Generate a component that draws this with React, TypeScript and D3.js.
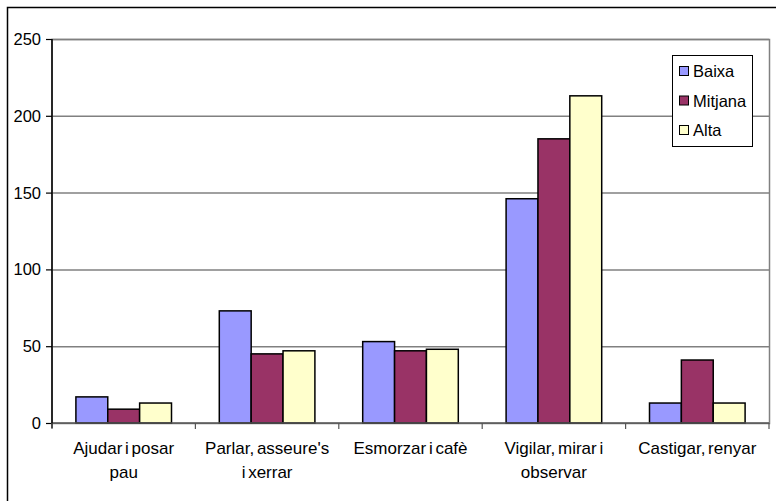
import * as d3 from "d3";

const categories = [
  ["Ajudar i posar", "pau"],
  ["Parlar, asseure's", "i xerrar"],
  ["Esmorzar i cafè"],
  ["Vigilar, mirar i", "observar"],
  ["Castigar, renyar"],
];
const seriesNames = ["Baixa", "Mitjana", "Alta"];
const baixa = [17, 73, 53, 146, 13];
const mitjana = [9, 45, 47, 185, 41];
const alta = [13, 47, 48, 213, 13];
const yTicks = [0, 50, 100, 150, 200, 250];

const colors = ["#9999FF", "#993366", "#FFFFCC"];
const values = [baixa, mitjana, alta];

const W = 776;
const H = 501;
const plot = { left: 52, right: 769, top: 39, bottom: 423 };
const font = "'Liberation Sans', Arial, sans-serif";

export default function App() {
  const catKeys = categories.map((c) => c.join(" "));
  const x = d3.scaleBand().domain(catKeys).range([plot.left, plot.right]).paddingInner(0).paddingOuter(0);
  const y = d3.scaleLinear().domain([0, 250]).range([plot.bottom, plot.top]);
  const step = x.bandwidth();
  const barW = step / (3 + 1.5);
  const inner = d3.scaleBand().domain(seriesNames).range([0, barW * 3]);

  return (
    <div style={{ position: "fixed", left: 0, top: 0, width: W, height: H, background: "#fff" }}>
      <svg width={W} height={H} style={{ display: "block" }} fontFamily={font}>
        <rect x={7.5} y={7.5} width={W + 10} height={H + 10} fill="#fff" stroke="#000" strokeWidth={1.5} />
        {/* plot area */}
        <rect x={plot.left} y={plot.top + 0.5} width={plot.right - plot.left + 0.5} height={plot.bottom - plot.top} fill="#fff" stroke="#808080" strokeWidth={1.5} />
        {yTicks.slice(1).map((t) => (
          <line key={t} x1={plot.left} x2={plot.right} y1={y(t) + 0.5} y2={y(t) + 0.5} stroke="#808080" strokeWidth={1.5} />
        ))}
        {/* bars */}
        {catKeys.map((k, i) => (
          <g key={k} transform={`translate(${x(k)! + barW * 0.75},0)`}>
            {seriesNames.map((s, j) => (
              <rect
                key={s}
                x={inner(s)!}
                y={y(values[j][i])}
                width={barW}
                height={y(0) - y(values[j][i])}
                fill={colors[j]}
                stroke="#000"
                strokeWidth={1.5}
              />
            ))}
          </g>
        ))}
        {/* axes */}
        <line x1={plot.left} x2={plot.right} y1={y(0)} y2={y(0)} stroke="#555" strokeWidth={1.5} />
        <line x1={plot.left} x2={plot.left} y1={plot.top} y2={plot.bottom + 5} stroke="#000" strokeWidth={1.5} />
        {yTicks.map((t) => (
          <g key={t}>
            <line x1={plot.left - 6} x2={plot.left} y1={y(t) + 0.5} y2={y(t) + 0.5} stroke="#000" strokeWidth={1.2} />
            <text x={41} y={y(t) + 6} textAnchor="end" fontSize={16.5} fill="#000">
              {t}
            </text>
          </g>
        ))}
        {[...catKeys.map((k) => x(k)!), plot.right].map((px, i) => (
          <line key={i} x1={px} x2={px} y1={plot.bottom} y2={plot.bottom + 6} stroke="#555" strokeWidth={1.2} />
        ))}
        {categories.map((lines, i) => (
          <text key={i} x={x(catKeys[i])! + step / 2} y={454} textAnchor="middle" fontSize={17} fill="#000" wordSpacing={-2}>
            {lines.map((l, li) => (
              <tspan key={li} x={x(catKeys[i])! + step / 2} dy={li === 0 ? 0 : 24}>
                {l}
              </tspan>
            ))}
          </text>
        ))}
        {/* legend */}
        <rect x={672.5} y={55.5} width={80} height={91} fill="#fff" stroke="#000" strokeWidth={1} />
        {seriesNames.map((s, j) => (
          <g key={s} transform={`translate(679,${71 + j * 29.5})`}>
            <rect x={0.5} y={-4.5} width={9} height={9} fill={colors[j]} stroke="#000" strokeWidth={1} />
            <text x={14} y={6} fontSize={16.5} fill="#000">
              {s}
            </text>
          </g>
        ))}
      </svg>
    </div>
  );
}
